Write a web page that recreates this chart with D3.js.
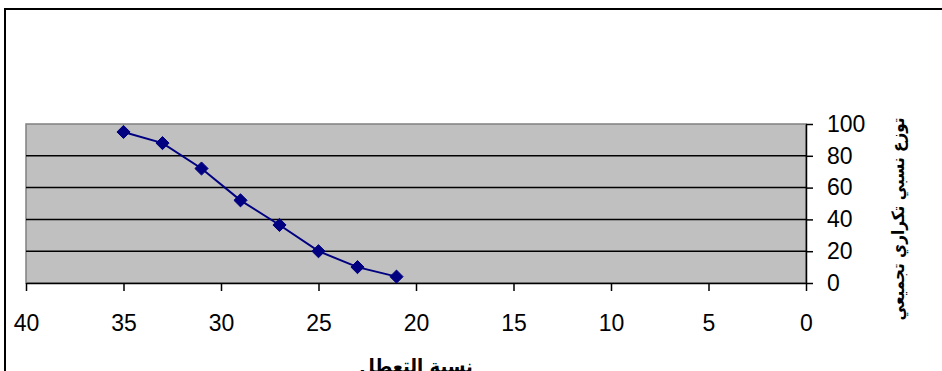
<!DOCTYPE html>
<html>
<head>
<meta charset="utf-8">
<script src="https://cdn.jsdelivr.net/npm/d3@7"></script>
<style>
  html, body { margin: 0; padding: 0; background: #fff; }
  svg { display: block; }
  text { font-family: "Liberation Sans", Arial, sans-serif; }
</style>
</head>
<body>
<svg id="chart" width="942" height="371"></svg>
<script>
// Unemployment rate (x) vs cumulative relative frequency (y)
const rates = [35, 33, 31, 29, 27, 25, 23, 21];
const cumulative = [95, 88, 72, 52, 36.5, 20, 10, 4];
const xTicks = [40, 35, 30, 25, 20, 15, 10, 5, 0];
const yTicks = [0, 20, 40, 60, 80, 100];
const xTitle = "نسبة التعطل";
const yTitle = "توزع نسبي تكراري تجميعي";

const svg = d3.select("#chart");
const plot = { left: 26, right: 806, top: 124, bottom: 283 };

const x = d3.scaleLinear().domain([40, 0]).range([plot.left, plot.right]);
const y = d3.scaleLinear().domain([0, 100]).range([plot.bottom, plot.top]);

// outer chart frame
svg.append("rect")
  .attr("x", 5).attr("y", 9)
  .attr("width", 960).attr("height", 400)
  .attr("fill", "none").attr("stroke", "#000").attr("stroke-width", 2);

// plot area background
svg.append("rect")
  .attr("x", plot.left).attr("y", plot.top)
  .attr("width", plot.right - plot.left).attr("height", plot.bottom - plot.top)
  .attr("fill", "#c0c0c0").attr("stroke", "#808080").attr("stroke-width", 1.5);

// horizontal gridlines
svg.append("g")
  .selectAll("line")
  .data(yTicks.filter(d => d > 0 && d < 100))
  .join("line")
  .attr("x1", plot.left).attr("x2", plot.right)
  .attr("y1", d => y(d)).attr("y2", d => y(d))
  .attr("stroke", "#000").attr("stroke-width", 1.5);

// bottom axis
const xAxis = svg.append("g")
  .attr("transform", `translate(0,${plot.bottom})`)
  .call(d3.axisBottom(x).tickValues(xTicks).tickSize(8).tickPadding(24).tickSizeOuter(0));
xAxis.select(".domain").attr("stroke", "#000").attr("stroke-width", 1.5);
xAxis.selectAll(".tick line").attr("stroke", "#000").attr("stroke-width", 1.5);
xAxis.selectAll(".tick text")
  .style("font-size", "23px").attr("fill", "#000")
  .style("font-family", "Liberation Sans, Arial, sans-serif");

// right axis
const yAxis = svg.append("g")
  .attr("transform", `translate(${plot.right},0)`)
  .call(d3.axisRight(y).tickValues(yTicks).tickSize(7).tickPadding(14).tickSizeOuter(0));
yAxis.select(".domain").attr("stroke", "#000").attr("stroke-width", 1.5);
yAxis.selectAll(".tick line").attr("stroke", "#000").attr("stroke-width", 1.5);
yAxis.selectAll(".tick text")
  .style("font-size", "23px").attr("fill", "#000")
  .style("font-family", "Liberation Sans, Arial, sans-serif");

// series line
const pts = rates.map((r, i) => [r, cumulative[i]]);
svg.append("path")
  .datum(pts)
  .attr("fill", "none")
  .attr("stroke", "#000080")
  .attr("stroke-width", 2)
  .attr("d", d3.line().x(d => x(d[0])).y(d => y(d[1])));

// diamond markers
svg.append("g")
  .selectAll("path")
  .data(pts)
  .join("path")
  .attr("transform", d => `translate(${x(d[0])},${y(d[1])})`)
  .attr("d", d3.symbol(d3.symbolDiamond2, 110))
  .attr("fill", "#000080")
  .attr("stroke", "#000080")
  .attr("stroke-width", 1);

// axis titles (condensed face keeps the Arabic runs compact)
const titleFont = "'DejaVu Sans Condensed', 'DejaVu Sans', sans-serif";

svg.append("text")
  .attr("x", (plot.left + plot.right) / 2)
  .attr("y", 373)
  .attr("text-anchor", "middle")
  .attr("direction", "rtl")
  .attr("font-weight", "bold")
  .style("font-family", titleFont)
  .style("font-stretch", "condensed")
  .style("font-size", "20px")
  .text(xTitle);

svg.append("text")
  .attr("transform", `translate(904,219) rotate(-90)`)
  .attr("text-anchor", "middle")
  .attr("direction", "rtl")
  .attr("font-weight", "bold")
  .style("font-family", titleFont)
  .style("font-stretch", "condensed")
  .style("font-size", "17px")
  .text(yTitle);
</script>
</body>
</html>
